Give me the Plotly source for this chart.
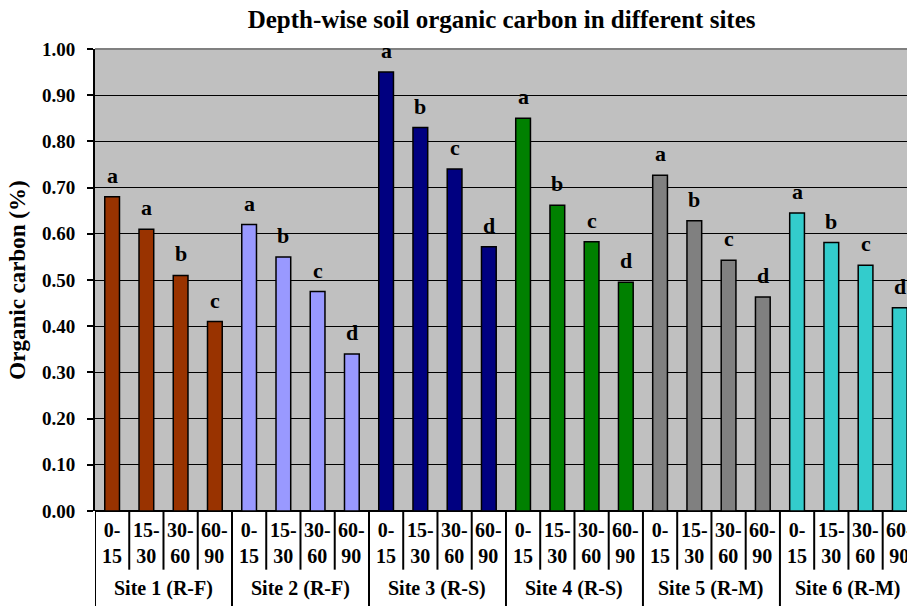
import plotly.graph_objects as go

sites = ["Site 1 (R-F)", "Site 2 (R-F)", "Site 3 (R-S)", "Site 4 (R-S)", "Site 5 (R-M)", "Site 6 (R-M)"]
depths = ["0-<br>15", "15-<br>30", "30-<br>60", "60-<br>90"]
site1 = [0.68, 0.61, 0.51, 0.41]
site2 = [0.62, 0.55, 0.475, 0.34]
site3 = [0.95, 0.83, 0.74, 0.572]
site4 = [0.85, 0.662, 0.583, 0.495]
site5 = [0.727, 0.628, 0.543, 0.463]
site6 = [0.645, 0.581, 0.532, 0.44]
letters1 = ["a", "a", "b", "c"]
letters2 = ["a", "b", "c", "d"]
letters3 = ["a", "b", "c", "d"]
letters4 = ["a", "b", "c", "d"]
letters5 = ["a", "b", "c", "d"]
letters6 = ["a", "b", "c", "d"]
colors = ["#993300", "#9999FF", "#000080", "#008000", "#808080", "#33CCCC"]
yticks = [0.0, 0.1, 0.2, 0.3, 0.4, 0.5, 0.6, 0.7, 0.8, 0.9, 1.0]

values = [site1, site2, site3, site4, site5, site6]
letters = [letters1, letters2, letters3, letters4, letters5, letters6]

FONT = "Liberation Serif"
nd = len(depths)
fig = go.Figure()
annotations = []
shapes = []

for s, (name, vals, lets, col) in enumerate(zip(sites, values, letters, colors)):
    xs = [s * nd + i for i in range(nd)]
    fig.add_trace(go.Bar(
        x=xs, y=vals, name=name, width=0.43,
        marker=dict(color=col, line=dict(color="black", width=1.5)),
        showlegend=False, hoverinfo="y"))
    for x, v, l in zip(xs, vals, lets):
        annotations.append(dict(x=x, y=v, xref="x", yref="y", text="<b>%s</b>" % l,
                                showarrow=False, yanchor="bottom", yshift=7,
                                font=dict(family=FONT, size=22, color="black")))
    for i, d in enumerate(depths):
        annotations.append(dict(x=s * nd + i, y=-0.014, xref="x", yref="paper",
                                text="<b>%s</b>" % d, showarrow=False, yanchor="top",
                                font=dict(family=FONT, size=20, color="black")))
    annotations.append(dict(x=s * nd + (nd - 1) / 2, y=-0.138, xref="x", yref="paper",
                            text="<b>%s</b>" % name, showarrow=False, yanchor="top",
                            font=dict(family=FONT, size=20, color="black")))

ntot = len(sites) * nd
bottom = -0.21
for k in range(ntot + 1):
    xb = k - 0.5
    if k % nd == 0:
        y1 = bottom
    else:
        y1 = -0.127
    shapes.append(dict(type="line", xref="x", yref="paper", x0=xb, x1=xb, y0=0, y1=y1,
                       line=dict(color="black", width=2)))
# top border of plot area
shapes.append(dict(type="line", xref="paper", yref="paper", x0=0, x1=1, y0=1, y1=1,
                   line=dict(color="#808080", width=2)))

fig.update_layout(
    width=907, height=606,
    margin=dict(l=95, r=0, t=49, b=95),
    paper_bgcolor="white", plot_bgcolor="#C0C0C0",
    title=dict(text="<b>Depth-wise soil organic carbon in different sites</b>",
               x=0.553, xanchor="center", y=0.968, yanchor="middle",
               font=dict(family=FONT, size=25, color="black")),
    xaxis=dict(range=[-0.5, 23.21], showticklabels=False, showgrid=False, zeroline=False,
               showline=False, ticks=""),
    yaxis=dict(range=[0, 1.0], tickvals=yticks, ticktext=["<b>%.2f</b>" % v for v in yticks],
               tickfont=dict(family=FONT, size=19, color="black"),
               showgrid=True, gridcolor="black", gridwidth=1,
               showline=True, linecolor="black", linewidth=2,
               ticks="outside", ticklen=6, tickcolor="black", tickwidth=1.5,
               zeroline=True, zerolinecolor="black", zerolinewidth=2,
               ticklabelstandoff=8,
               title=dict(text="<b>Organic carbon (%)</b>", standoff=10,
                          font=dict(family=FONT, size=23, color="black"))),
    annotations=annotations, shapes=shapes, bargap=0.5,
)

fig.write_html("out.html", config={"displayModeBar": False},
               post_script="document.body.style.margin='0';document.body.style.overflow='hidden';")
